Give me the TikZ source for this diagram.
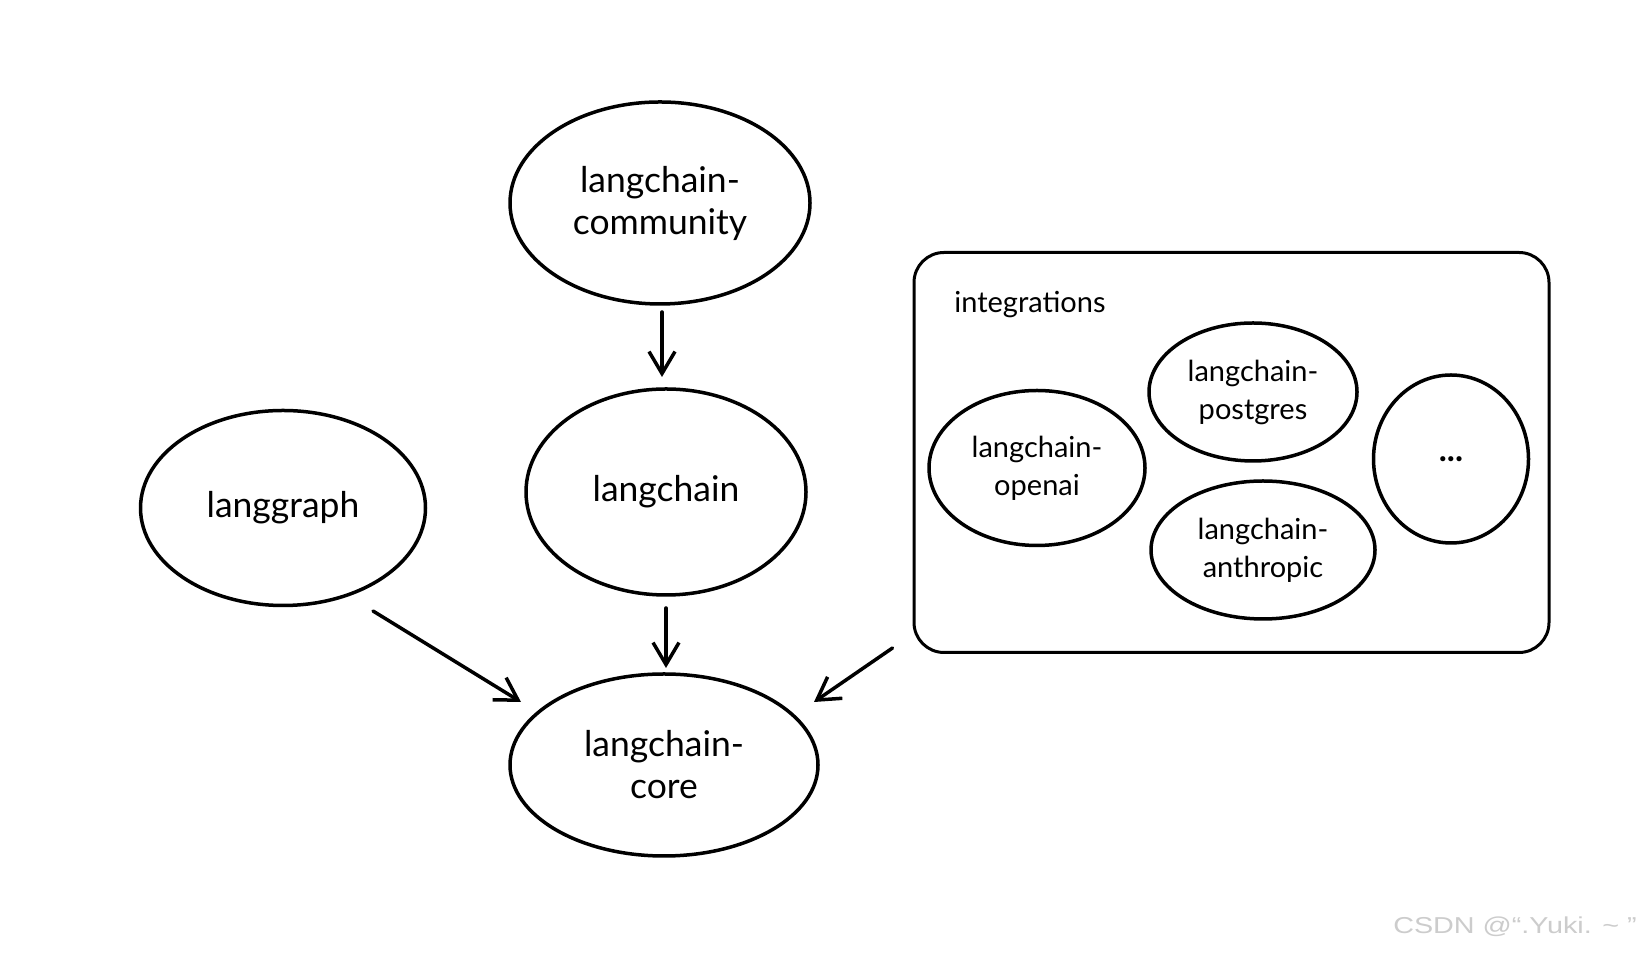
\documentclass[tikz,border=0pt]{standalone}
\usepackage{fontspec}
\setmainfont{Lato}
\newfontfamily\wmfont{Liberation Sans}
\usetikzlibrary{shapes.geometric,arrows.meta,calc}
\tikzset{
  ell/.style={ellipse,draw=black,line width=3.5pt,inner sep=0pt,align=center},
  bigtxt/.style={font=\fontsize{35.5}{42}\selectfont},
  smalltxt/.style={font=\fontsize{29}{38}\selectfont},
  arr/.style={line width=3.5pt,line cap=round,-{Straight Barb[length=22pt,width=26pt,line width=3.5pt]}},
}
\begin{document}
\begin{tikzpicture}[x=1pt,y=1pt]
\useasboundingbox[fill=white] (0,0) rectangle (1643,957);
% big nodes
\node[ell,bigtxt,minimum width=300,minimum height=202] (comm) at (660,754) {langchain-\\community};
\node[ell,bigtxt,minimum width=280,minimum height=206] (lc) at (666,465) {langchain};
\node[ell,bigtxt,minimum width=285,minimum height=195] (lg) at (283,449) {langgraph};
\node[ell,bigtxt,minimum width=308,minimum height=182] (core) at (664,192) {langchain-\\core};
% integrations box
\node[draw=black,line width=3pt,rounded corners=30pt,minimum width=635,minimum height=400,inner sep=0pt] (box) at (1231.5,504.5) {};
\node[smalltxt,anchor=center] (intlabel) at (1030,652) {integrations};
\node[ell,smalltxt,minimum width=216,minimum height=155] (openai) at (1037,489) {langchain-\\openai};
\node[ell,smalltxt,minimum width=208,minimum height=138] (pg) at (1253,565) {langchain-\\postgres};
\node[ell,smalltxt,minimum width=224,minimum height=138] (anth) at (1263,407) {langchain-\\anthropic};
\node[ell,font=\fontsize{34}{40}\selectfont\bfseries,minimum width=155,minimum height=168] (dots) at (1451,498) {\raisebox{-4pt}{...}};
% arrows
\draw[arr] ([shift={(2,-109)}]comm.center) -- ([shift={(-4,115)}]lc.center);
\draw[arr] ([shift={(0,-116)}]lc.center) -- ([shift={(2,97)}]core.center);
\draw[arr] ([shift={(90,-103)}]lg.center) -- ([shift={(-143,63)}]core.center);
\draw[arr] ([shift={(-20,6)}]box.south west) -- ([shift={(150,63)}]core.center);
% watermark
\node[text=black!20,font=\wmfont\fontsize{23}{26}\selectfont] (wm) at (1515,30) {\scalebox{1.25}[1]{CSDN @“.Yuki. \textasciitilde{} ”}};
\end{tikzpicture}
\end{document}
